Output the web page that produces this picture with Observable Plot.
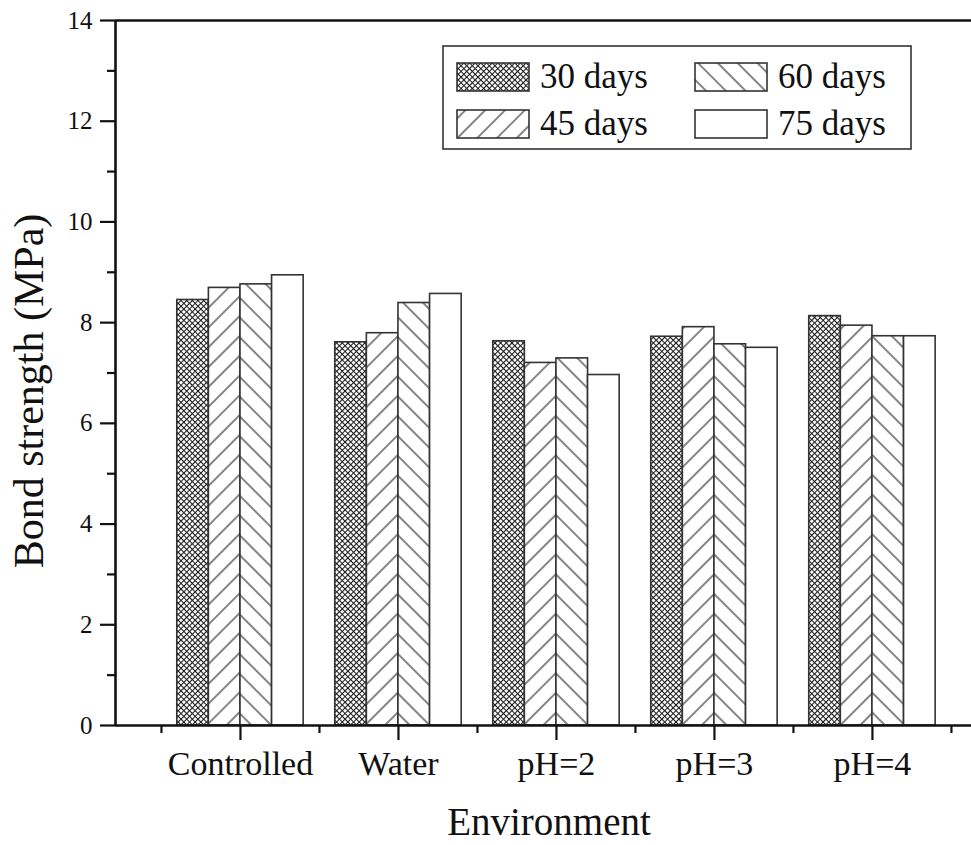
<!DOCTYPE html>
<html>
<head>
<meta charset="utf-8">
<script src="https://cdn.jsdelivr.net/npm/d3@7"></script>
<script src="https://cdn.jsdelivr.net/npm/@observablehq/plot@0.6"></script>
<style>
  body { margin: 0; background: #fff; }
  #chart { position: relative; width: 971px; height: 845px; }
</style>
</head>
<body>
<div id="chart"></div>
<script>
// ---- data ----
const environments = ["Controlled", "Water", "pH=2", "pH=3", "pH=4"];
const series = ["30 days", "45 days", "60 days", "75 days"];
const days30 = [8.45, 7.61, 7.63, 7.72, 8.13];
const days45 = [8.69, 7.79, 7.20, 7.91, 7.94];
const days60 = [8.76, 8.39, 7.29, 7.57, 7.73];
const days75 = [8.94, 8.57, 6.96, 7.50, 7.73];
const yTicks = [0, 2, 4, 6, 8, 10, 12, 14];
const yMinorTicks = [1, 3, 5, 7, 9, 11, 13];
const legendRows = [["30 days", "60 days"], ["45 days", "75 days"]];
const yTitle = "Bond strength (MPa)";
const xTitle = "Environment";

// ---- table ----
const seriesValues = [days30, days45, days60, days75];
const groupWidth = 0.8;
const barWidth = groupWidth / series.length;
const rows = [];
environments.forEach((env, i) => {
  series.forEach((s, j) => {
    const x1 = (i + 1) - groupWidth / 2 + j * barWidth;
    rows.push({env, series: s, value: seriesValues[j][i], x1, x2: x1 + barWidth});
  });
});
const xMajor = environments.map((_, i) => i + 1);
const xMinor = [0.5, ...environments.map((_, i) => i + 1.5)];
const xDomain = [0.209, 5.627];

const fills = ["url(#pat30)", "url(#pat45)", "url(#pat60)", "url(#pat75)"];
const fillOf = Object.fromEntries(series.map((s, j) => [s, fills[j]]));
const font = "'Liberation Serif', 'Times New Roman', serif";

const plot = Plot.plot({
  width: 971,
  height: 845,
  marginLeft: 115,
  marginRight: 0,
  marginTop: 20,
  marginBottom: 120,
  style: {fontFamily: font, background: "#fff", color: "#111"},
  x: {type: "linear", domain: xDomain, axis: null},
  y: {domain: [0, 14], axis: null},
  color: {type: "ordinal", domain: series, range: fills},
  marks: [
    Plot.rectY(rows, {x1: "x1", x2: "x2", y1: 0, y2: "value", fill: "series", stroke: "#333", strokeWidth: 1.6}),
    Plot.axisY(yTicks, {tickSize: 15, tickPadding: 8, fontSize: 25, tickFormat: d => String(d), label: null, strokeWidth: 2.2}),
    Plot.axisY(yMinorTicks, {tickSize: 8, tickFormat: () => "", label: null, strokeWidth: 2.2}),
    Plot.axisX(xMajor, {tickSize: 15, tickPadding: 10, fontSize: 34, tickFormat: d => environments[d - 1], label: null, strokeWidth: 2.2}),
    Plot.axisX(xMinor, {tickSize: 8, tickFormat: () => "", label: null, strokeWidth: 2.2}),
    Plot.ruleY([0], {stroke: "#111", strokeWidth: 2.6}),
    Plot.ruleY([14], {stroke: "#111", strokeWidth: 2.6}),
    Plot.ruleX([xDomain[0]], {stroke: "#111", strokeWidth: 2.6})
  ]
});

document.getElementById("chart").appendChild(plot);

// ---- patterns ----
const svg = d3.select(plot);
const defs = svg.insert("defs", ":first-child");
// 30 days: dense crosshatch
const p30 = defs.append("pattern").attr("id", "pat30").attr("patternUnits", "userSpaceOnUse")
  .attr("width", 4).attr("height", 4).attr("patternTransform", "rotate(45)");
p30.append("rect").attr("width", 4).attr("height", 4).attr("fill", "#fff");
p30.append("line").attr("x1", 0).attr("y1", 0).attr("x2", 0).attr("y2", 4).attr("stroke", "#1a1a1a").attr("stroke-width", 2.1);
p30.append("line").attr("x1", 0).attr("y1", 0).attr("x2", 4).attr("y2", 0).attr("stroke", "#1a1a1a").attr("stroke-width", 2.1);
// 45 days: "/" hatch
const p45 = defs.append("pattern").attr("id", "pat45").attr("patternUnits", "userSpaceOnUse")
  .attr("width", 14).attr("height", 14).attr("patternTransform", "rotate(45)");
p45.append("rect").attr("width", 14).attr("height", 14).attr("fill", "#fff");
p45.append("line").attr("x1", 1).attr("y1", 0).attr("x2", 1).attr("y2", 14).attr("stroke", "#444").attr("stroke-width", 1.3);
// 60 days: "\" hatch
const p60 = defs.append("pattern").attr("id", "pat60").attr("patternUnits", "userSpaceOnUse")
  .attr("width", 14).attr("height", 14).attr("patternTransform", "rotate(-45)");
p60.append("rect").attr("width", 14).attr("height", 14).attr("fill", "#fff");
p60.append("line").attr("x1", 1).attr("y1", 0).attr("x2", 1).attr("y2", 14).attr("stroke", "#444").attr("stroke-width", 1.3);
// 75 days: plain white
const p75 = defs.append("pattern").attr("id", "pat75").attr("patternUnits", "userSpaceOnUse")
  .attr("width", 10).attr("height", 10);
p75.append("rect").attr("width", 10).attr("height", 10).attr("fill", "#fff");

// ---- axis titles ----
svg.append("text")
  .attr("transform", "translate(43,391) rotate(-90)")
  .attr("text-anchor", "middle")
  .attr("font-family", font).attr("font-size", 42).attr("fill", "#111")
  .text(yTitle);
svg.append("text")
  .attr("x", 549).attr("y", 835)
  .attr("text-anchor", "middle")
  .attr("font-family", font).attr("font-size", 39).attr("fill", "#111")
  .text(xTitle);

// ---- legend ----
const lg = svg.append("g").attr("text-anchor", "start");
lg.append("rect").attr("x", 443).attr("y", 46).attr("width", 468).attr("height", 103)
  .attr("fill", "#fff").attr("stroke", "#333").attr("stroke-width", 1.6);
const colX = [457, 695];
const rowY = [63, 110];
legendRows.forEach((row, r) => {
  row.forEach((s, c) => {
    lg.append("rect").attr("x", colX[c]).attr("y", rowY[r]).attr("width", 72).attr("height", 28)
      .attr("fill", fillOf[s]).attr("stroke", "#333").attr("stroke-width", 1.6);
    lg.append("text").attr("x", colX[c] + 83).attr("y", rowY[r] + 25)
      .attr("text-anchor", "start")
      .attr("font-family", font).attr("font-size", 35).attr("fill", "#111")
      .text(s);
  });
});
</script>
</body>
</html>
